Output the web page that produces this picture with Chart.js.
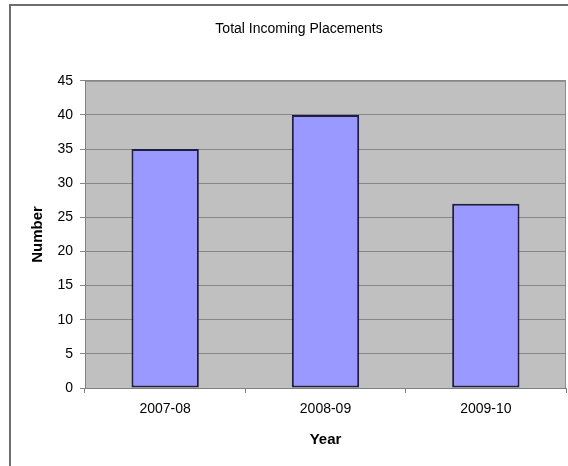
<!DOCTYPE html>
<html>
<head>
<meta charset="utf-8">
<script src="https://cdn.jsdelivr.net/npm/chart.js@4/dist/chart.umd.min.js"></script>
<style>
  html, body { margin: 0; padding: 0; background: #fff; }
  #wrap { width: 568px; height: 466px; position: relative; }
</style>
</head>
<body>
<div id="wrap"><canvas id="barChart" width="568" height="466"></canvas></div>
<script>
  // data
  var years = ["2007-08", "2008-09", "2009-10"];
  var placements = [35, 40, 27];
  var yTicks = [0, 5, 10, 15, 20, 25, 30, 35, 40, 45];

  var FONT = "'Liberation Sans', Arial, sans-serif";

  // grey plot area + the outer frame (top and left edges only)
  var backdrop = {
    id: "backdrop",
    beforeDraw: function (chart) {
      var c = chart.ctx, a = chart.chartArea;
      c.save();
      c.fillStyle = "#c0c0c0";
      c.fillRect(a.left, a.top, a.right - a.left, a.bottom - a.top);
      c.strokeStyle = "#8c8c8c";
      c.lineWidth = 1;
      c.strokeRect(a.left + 0.5, a.top + 0.5, a.right - a.left - 1, a.bottom - a.top);
      c.strokeStyle = "#6e6e6e";
      c.lineWidth = 2;
      c.beginPath();
      c.moveTo(10, 466);
      c.lineTo(10, 5);
      c.lineTo(568, 5);
      c.stroke();
      c.restore();
    }
  };

  try {
    var ctx = document.getElementById("barChart");
    if (ctx) {
      var myChart = new Chart(ctx, {
        type: "bar",
        data: {
          labels: years,
          datasets: [
            {
              label: "Total Incoming Placements",
              data: placements,
              backgroundColor: "#9999ff",
              borderColor: "#1e1e40",
              borderWidth: 2,
              borderSkipped: false,
              barPercentage: 0.42,
              categoryPercentage: 1.0,
            },
          ],
        },
        options: {
          responsive: false,
          animation: false,
          layout: { padding: { left: 32, right: 2, top: 0, bottom: 0 } },
          plugins: {
            legend: { display: false },
            tooltip: { enabled: false },
            title: {
              display: true,
              text: "Total Incoming Placements",
              color: "#000",
              font: { family: FONT, size: 14, weight: "normal" },
              padding: { top: 21, bottom: 43 },
            },
          },
          scales: {
            x: {
              grid: {
                offset: true,
                drawOnChartArea: false,
                drawTicks: true,
                tickLength: 5,
                color: "#808080",
              },
              border: { display: true, color: "#808080", width: 1 },
              ticks: {
                color: "#000",
                font: { family: FONT, size: 14 },
                padding: 8,
                maxRotation: 0,
              },
              title: {
                display: true,
                text: "Year",
                color: "#000",
                font: { family: FONT, size: 15, weight: "bold" },
                padding: { top: 0, bottom: 17 },
              },
              afterFit: function (scale) {
                scale.height = 78;
              },
            },
            y: {
              min: yTicks[0],
              max: yTicks[yTicks.length - 1],
              afterBuildTicks: function (scale) {
                scale.ticks = yTicks.map(function (v) { return { value: v }; });
              },
              grid: {
                color: "#878787",
                tickLength: 5,
                drawTicks: true,
              },
              border: { display: true, color: "#808080", width: 1 },
              ticks: {
                color: "#000",
                font: { family: FONT, size: 14 },
                padding: 7,
              },
              title: {
                display: true,
                text: "Number",
                color: "#000",
                font: { family: FONT, size: 15, weight: "bold" },
                padding: { top: -3, bottom: 0 },
              },
              afterFit: function (scale) {
                scale.width = 53;
              },
            },
          },
        },
        plugins: [backdrop],
      });
    }
  } catch (error) {
    console.log(error);
  }
</script>
</body>
</html>
